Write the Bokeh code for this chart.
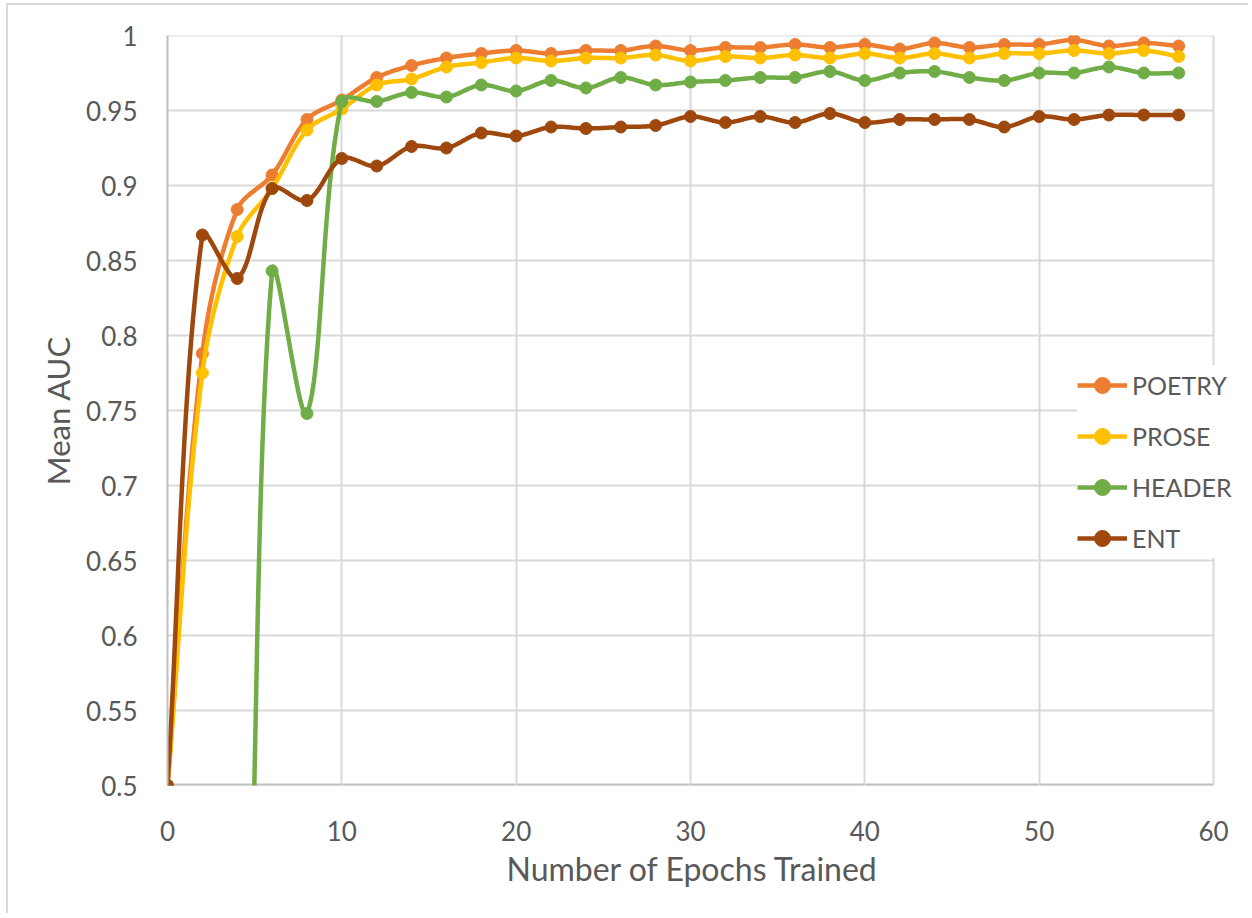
import numpy as np
from bokeh.plotting import figure
from bokeh.models import (FixedTicker, CustomJSTickFormatter, Legend, LegendItem, Title)
from bokeh.embed import file_html
from bokeh.resources import INLINE

# ---------------- data ----------------
epochs = [0, 2, 4, 6, 8, 10, 12, 14, 16, 18, 20, 22, 24, 26, 28,
          30, 32, 34, 36, 38, 40, 42, 44, 46, 48, 50, 52, 54, 56, 58]

poetry = [0.500, 0.788, 0.884, 0.907, 0.944, 0.957, 0.972, 0.980, 0.985, 0.988,
          0.990, 0.988, 0.990, 0.990, 0.993, 0.990, 0.992, 0.992, 0.994, 0.992,
          0.994, 0.991, 0.995, 0.992, 0.994, 0.994, 0.997, 0.993, 0.995, 0.993]

prose = [0.500, 0.775, 0.866, 0.898, 0.937, 0.951, 0.967, 0.971, 0.979, 0.982,
         0.985, 0.983, 0.985, 0.985, 0.987, 0.983, 0.986, 0.985, 0.987, 0.985,
         0.988, 0.985, 0.988, 0.985, 0.988, 0.988, 0.990, 0.988, 0.990, 0.986]

header = [0.500, 0.200, 0.200, 0.843, 0.748, 0.956, 0.956, 0.962, 0.959, 0.967,
          0.963, 0.970, 0.965, 0.972, 0.967, 0.969, 0.970, 0.972, 0.972, 0.976,
          0.970, 0.975, 0.976, 0.972, 0.970, 0.975, 0.975, 0.979, 0.975, 0.975]

ent = [0.500, 0.867, 0.838, 0.898, 0.890, 0.918, 0.913, 0.926, 0.925, 0.935,
       0.933, 0.939, 0.938, 0.939, 0.940, 0.946, 0.942, 0.946, 0.942, 0.948,
       0.942, 0.944, 0.944, 0.944, 0.939, 0.946, 0.944, 0.947, 0.947, 0.947]

series_names = ["POETRY", "PROSE", "HEADER", "ENT"]
series_values = [poetry, prose, header, ent]
series_colors = ["#ED7D31", "#FFC000", "#70AD47", "#9E480E"]

x_ticks = [0, 10, 20, 30, 40, 50, 60]
y_ticks = [0.5, 0.55, 0.6, 0.65, 0.7, 0.75, 0.8, 0.85, 0.9, 0.95, 1.0]

x_title = "Number of Epochs Trained"
y_title = "Mean AUC"

# ---------------- layout ----------------
W, H = 1242, 910
BL, BR, BT, BB = 159, 10, 30, 130
FRAME_W = W - BL - BR
FRAME_H = H - BT - BB
X_DATA_END = 60
X_PIX_END = 1046          # pixel position of x = 60 inside the frame
X_END = X_DATA_END * FRAME_W / X_PIX_END
SX = X_PIX_END / X_DATA_END          # px per x unit
SY = FRAME_H / (y_ticks[-1] - y_ticks[0])  # px per y unit


def smooth(xs, ys, n=24, f=1.0 / 3.0):
    """Excel-like smoothed line: Bezier segments whose control arms are
    proportional to neighbouring chord lengths (in screen space)."""
    x = np.asarray(xs, float) * SX
    y = np.asarray(ys, float) * SY
    P = np.stack([x, y], axis=1)
    m = len(P)
    cin = np.zeros_like(P)
    cout = np.zeros_like(P)
    for i in range(m):
        pm = P[i - 1] if i > 0 else P[i]
        pp = P[i + 1] if i < m - 1 else P[i]
        T = pp - pm
        d0 = np.hypot(*(P[i] - pm))
        d1 = np.hypot(*(pp - P[i]))
        s = d0 + d1
        if s == 0:
            cin[i] = cout[i] = P[i]
            continue
        cout[i] = P[i] + T * f * d1 / s
        cin[i] = P[i] - T * f * d0 / s
    t = np.linspace(0, 1, n)
    ox, oy = [], []
    for i in range(m - 1):
        p0, p1, p2, p3 = P[i], cout[i], cin[i + 1], P[i + 1]
        tt = t if i == 0 else t[1:]
        a = (1 - tt) ** 3
        b = 3 * (1 - tt) ** 2 * tt
        c = 3 * (1 - tt) * tt ** 2
        d = tt ** 3
        ox.extend((a * p0[0] + b * p1[0] + c * p2[0] + d * p3[0]) / SX)
        oy.extend((a * p0[1] + b * p1[1] + c * p2[1] + d * p3[1]) / SY)
    return ox, oy


FONT = "Lato"
TXT = "#595959"
GRID = "#D9D9D9"
AXIS = "#BFBFBF"

p = figure(width=W, height=H, x_range=(0, X_END), y_range=(y_ticks[0], y_ticks[-1]),
           output_backend="svg", toolbar_location=None,
           min_border_left=BL, min_border_right=BR,
           min_border_top=BT, min_border_bottom=BB,
           background_fill_color="white", border_fill_color="white")
p.styles = {"border-left": "2px solid #D9D9D9", "border-top": "2px solid #D9D9D9",
            "margin-left": "6px", "margin-top": "3px"}
p.outline_line_color = None

for ax in (p.xaxis, p.yaxis):
    ax.major_tick_line_color = None
    ax.minor_tick_line_color = None
    ax.major_label_text_font = FONT
    ax.major_label_text_font_size = "26px"
    ax.major_label_text_color = TXT
    ax.axis_label_text_font = FONT
    ax.axis_label_text_font_size = "31px"
    ax.axis_label_text_font_style = "normal"
    ax.axis_label_text_color = TXT

p.yaxis.axis_line_color = AXIS
p.yaxis.axis_line_width = 2
p.xaxis.axis_line_color = None

p.xaxis.ticker = FixedTicker(ticks=x_ticks)
p.yaxis.ticker = FixedTicker(ticks=y_ticks)
p.yaxis.formatter = CustomJSTickFormatter(code="return String(+tick.toFixed(2));")
p.yaxis.axis_label = y_title
p.xaxis.major_label_standoff = 29
p.yaxis.major_label_standoff = 24
p.yaxis.axis_label_standoff = 6

# x-axis title as a Title below, positioned to centre on the 0..60 span
xt = Title(text=x_title, align="left", offset=339, standoff=6,
           text_font=FONT, text_font_size="32px", text_font_style="normal",
           text_color=TXT)
p.add_layout(xt, "below")

p.xgrid.grid_line_color = GRID
p.xgrid.grid_line_width = 2
p.ygrid.grid_line_color = None

# horizontal gridlines only across the 0..60 range
n = len(y_ticks)
p.segment(x0=[x_ticks[0]] * n, x1=[x_ticks[-1]] * n, y0=y_ticks, y1=y_ticks,
          line_color=GRID, line_width=2, level="underlay")
# bottom axis line (0..60)
p.segment(x0=[x_ticks[0]], x1=[x_ticks[-1]], y0=[y_ticks[0]], y1=[y_ticks[0]],
          line_color=AXIS, line_width=4, level="underlay")

items = []
for name, vals, col in zip(series_names, series_values, series_colors):
    sx, sy = smooth(epochs, vals)
    ln = p.line(sx, sy, line_color=col, line_width=4.5, line_join="round")
    sc = p.scatter(epochs, vals, size=12, fill_color=col, line_color=col, marker="circle")
    items.append(LegendItem(label=name, renderers=[ln, sc]))

legend = Legend(items=items, location=(910, 227),
                label_text_font=FONT, label_text_font_size="25px",
                label_text_color=TXT,
                glyph_width=50, glyph_height=40, label_height=40,
                label_standoff=5, spacing=11, padding=10, margin=0,
                border_line_color=None, background_fill_color="white",
                background_fill_alpha=1.0)
p.add_layout(legend, "center")

open("out.html", "w").write(file_html(p, INLINE))
